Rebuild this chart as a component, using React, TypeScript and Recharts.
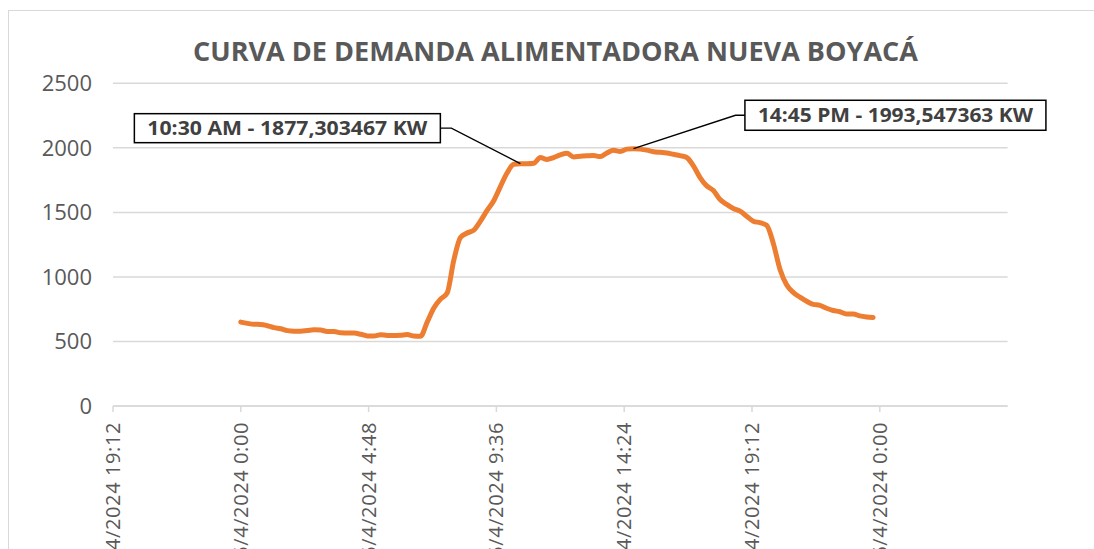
import { CartesianGrid, Line, LineChart, ReferenceDot, XAxis, YAxis } from "recharts";

// demand in kW, one reading every 15 minutes from 0:00 to 23:45
const DEMAND_KW = [
  650, 640, 633, 632, 622, 607, 598, 584, 580, 580, 585, 590,
  588, 578, 578, 567, 566, 565, 556, 543, 542, 552, 547, 547,
  549, 553, 542, 540, 650, 760, 828, 875, 1130, 1305, 1340, 1362,
  1432, 1515, 1590, 1700, 1805, 1873, 1877.303467, 1876, 1880, 1925, 1910, 1925,
  1945, 1958, 1930, 1935, 1938, 1940, 1932, 1960, 1982, 1972, 1990, 1993.547363,
  1990, 1982, 1970, 1965, 1960, 1950, 1940, 1925, 1860, 1770, 1705, 1670,
  1600, 1562, 1530, 1510, 1470, 1432, 1420, 1400, 1260, 1060, 940, 880,
  843, 812, 787, 780, 757, 740, 730, 713, 713, 698, 690, 686,
];
const STEP_HOURS = 0.25;

const X_TICKS = [-4.8, 0, 4.8, 9.6, 14.4, 19.2, 24];
const X_TICK_LABELS = [
  "14/4/2024 19:12",
  "15/4/2024 0:00",
  "15/4/2024 4:48",
  "15/4/2024 9:36",
  "15/4/2024 14:24",
  "15/4/2024 19:12",
  "16/4/2024 0:00",
];
const Y_TICKS = [0, 500, 1000, 1500, 2000, 2500];

const TITLE = "CURVA DE DEMANDA ALIMENTADORA NUEVA BOYACÁ";
const NOTE_AM = { t: 10.5, kw: 1877.303467, text: "10:30 AM - 1877,303467 KW" };
const NOTE_PM = { t: 14.75, kw: 1993.547363, text: "14:45 PM - 1993,547363 KW" };

const rows = DEMAND_KW.map((kw, i) => ({ t: i * STEP_HOURS, kw }));

const GRID = "#D9D9D9";
const TEXT = "#595959";
const FONT = "'Open Sans', 'Noto Sans', sans-serif";

function XTick(props: any) {
  const { x, y, payload } = props;
  const idx = X_TICKS.indexOf(payload.value);
  return (
    <g transform={`translate(${x},${y})`}>
      <text
        transform="rotate(-90)"
        x={-8}
        y={0}
        dy="0.35em"
        textAnchor="end"
        fill={TEXT}
        fontSize={20}
        fontFamily={FONT}
        letterSpacing={0.6}
      >
        {idx >= 0 ? X_TICK_LABELS[idx] : ""}
      </text>
    </g>
  );
}

// callout box with leader, offsets are relative to the data point
function Callout(props: any) {
  const { cx, cy, text, boxX, boxY, boxW, boxH, elbowX, side } = props;
  const midY = cy + boxY + boxH / 2;
  const edgeX = side === "left" ? cx + boxX + boxW : cx + boxX;
  return (
    <g>
      <polyline
        points={`${cx},${cy} ${cx + elbowX},${midY} ${edgeX},${midY}`}
        fill="none"
        stroke="#000"
        strokeWidth={1.3}
      />
      <rect
        x={cx + boxX}
        y={cy + boxY}
        width={boxW}
        height={boxH}
        fill="#fff"
        stroke="#000"
        strokeWidth={1.5}
      />
      <text
        x={cx + boxX + boxW / 2}
        y={midY}
        dy="0.36em"
        textAnchor="middle"
        fontSize={20}
        fontWeight={700}
        fontFamily={FONT}
        fill="#404040"
        textLength={boxW - 26}
        lengthAdjust="spacingAndGlyphs"
      >
        {text}
      </text>
    </g>
  );
}

export default function App() {
  return (
    <div style={{ position: "relative", width: 1094, height: 549, overflow: "hidden", background: "#fff" }}>
      <style>{"body{margin:0;overflow:hidden}"}</style>
      <div
        style={{
          position: "absolute",
          left: 8,
          top: 10,
          width: 2000,
          height: 2000,
          borderLeft: `1.5px solid ${GRID}`,
          borderTop: `1.5px solid ${GRID}`,
        }}
      />
      <svg width={1094} height={80} style={{ position: "absolute", left: 0, top: 0 }}>
        <text
          x={555.5}
          y={61}
          textAnchor="middle"
          fontSize={26}
          fontWeight={700}
          fontFamily={FONT}
          fill={TEXT}
          textLength={725}
          lengthAdjust="spacingAndGlyphs"
        >
          {TITLE}
        </text>
      </svg>
      <div style={{ position: "absolute", left: 0, top: 0 }}>
        <LineChart width={1094} height={549} data={rows} margin={{ top: 83.3, right: 86.4, bottom: 0, left: 0 }}>
          <CartesianGrid horizontal vertical={false} stroke={GRID} strokeWidth={1.5} />
          <XAxis
            dataKey="t"
            type="number"
            domain={[-4.8, 28.8]}
            ticks={X_TICKS}
            interval={0}
            height={143}
            axisLine={{ stroke: GRID, strokeWidth: 1.5 }}
            tickLine={{ stroke: GRID, strokeWidth: 1.5 }}
            tickSize={6}
            tick={<XTick />}
          />
          <YAxis
            type="number"
            domain={[0, 2500]}
            ticks={Y_TICKS}
            width={113}
            axisLine={false}
            tickLine={false}
            tickSize={0}
            tickMargin={21}
            tick={{ fill: TEXT, fontSize: 22, fontFamily: FONT }}
          />
          <Line
            type="monotone"
            dataKey="kw"
            stroke="#ED7D31"
            strokeWidth={5}
            strokeLinecap="round"
            strokeLinejoin="round"
            dot={false}
            activeDot={false}
            isAnimationActive={false}
          />
          <ReferenceDot
            x={NOTE_AM.t}
            y={NOTE_AM.kw}
            r={0}
            shape={(p: any) => (
              <Callout
                cx={p.cx}
                cy={p.cy}
                text={NOTE_AM.text}
                boxX={-386}
                boxY={-50}
                boxW={306}
                boxH={29}
                elbowX={-69}
                side="left"
              />
            )}
          />
          <ReferenceDot
            x={NOTE_PM.t}
            y={NOTE_PM.kw}
            r={0}
            shape={(p: any) => (
              <Callout
                cx={p.cx}
                cy={p.cy}
                text={NOTE_PM.text}
                boxX={111.4}
                boxY={-48.4}
                boxW={301}
                boxH={30}
                elbowX={102}
                side="right"
              />
            )}
          />
        </LineChart>
      </div>
    </div>
  );
}
